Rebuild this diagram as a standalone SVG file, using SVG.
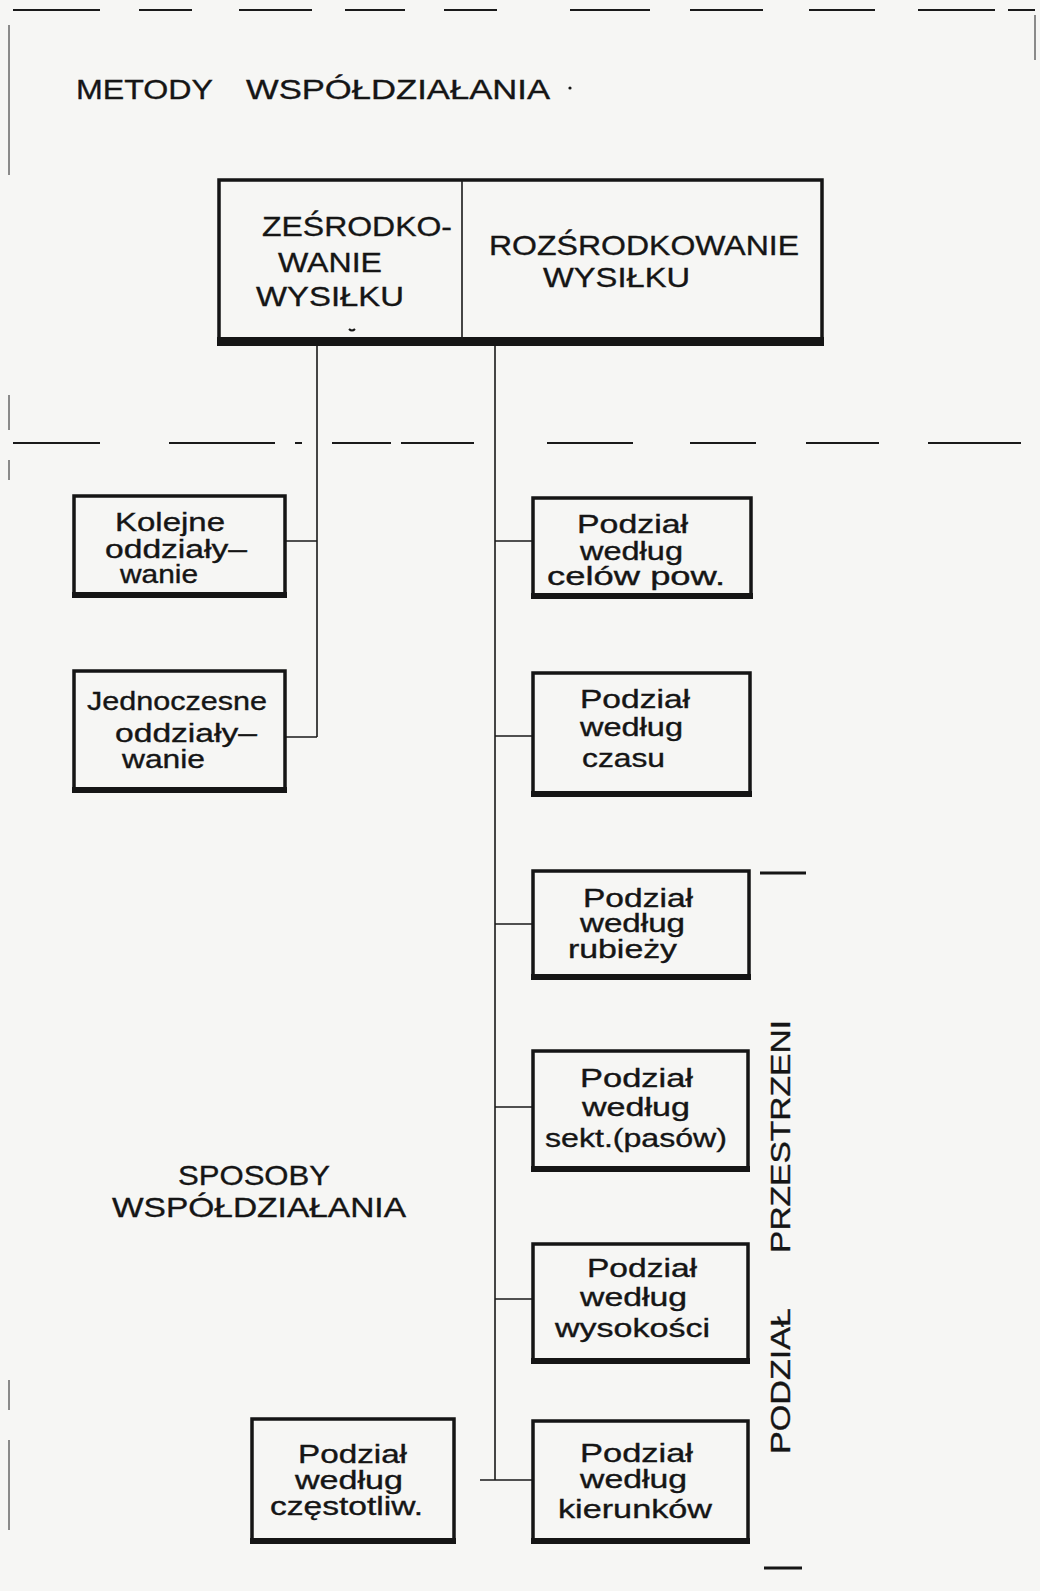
<svg xmlns="http://www.w3.org/2000/svg" width="1040" height="1591" viewBox="0 0 1040 1591">
<style>
.bg{fill:#f6f6f4}
.t{font-family:"Liberation Sans","DejaVu Sans",sans-serif;fill:#151515;stroke:#151515;stroke-width:0.35}
.cap{font-size:28px}
.bt{font-size:25px}
.box{fill:none;stroke:#151515;stroke-width:3.5}
.bb{stroke:#151515;stroke-width:6;fill:none}
.ln{stroke:#1a1a1a;stroke-width:1.6;fill:none}
.dash{stroke:#1a1a1a;stroke-width:2.2;fill:none}
.edge{stroke:#444;stroke-width:1.2;fill:none}
</style>
<rect class="bg" x="0" y="0" width="1040" height="1591"/>

<g id="frame">
<path class="dash" d="M13 10H100M139 10H192M239 10H312M345 10H405M444 10H497M570 10H650M690 10H763M809 10H875M918 10H995M1008 10H1035"/>
<path class="dash" d="M13 443H100M169 443H275M295 443H302M332 443H391M401 443H474M547 443H633M690 443H756M806 443H879M928 443H1021"/>
<path class="edge" d="M9 25V175M9 395V430M9 460V480M9 1380V1410M9 1440V1530M1035 15V60"/>
</g>

<g id="title">
<text class="t cap" x="76" y="99" textLength="137" lengthAdjust="spacingAndGlyphs">METODY</text>
<text class="t cap" x="246" y="99" textLength="304" lengthAdjust="spacingAndGlyphs">WSPÓŁDZIAŁANIA</text>
<circle cx="570" cy="88" r="1.6" fill="#151515"/>
</g>

<g id="connectors">
<path class="ln" d="M317 345V737M285 541H317M285 737H317"/>
<path class="ln" d="M495 345V1480M495 541H532M495 736H532M495 924H532M495 1107H532M495 1299H532M480 1480H532"/>
</g>

<g id="top-box">
<rect class="box" x="219" y="180" width="603" height="162" stroke-width="4.5"/>
<rect x="217" y="337" width="607" height="9" fill="#151515"/>
<line class="ln" x1="462" y1="180" x2="462" y2="340" stroke-width="2.2"/>
<text class="t cap" x="262" y="236" textLength="190" lengthAdjust="spacingAndGlyphs">ZEŚRODKO-</text>
<text class="t cap" x="278" y="272" textLength="104" lengthAdjust="spacingAndGlyphs">WANIE</text>
<text class="t cap" x="256" y="306" textLength="148" lengthAdjust="spacingAndGlyphs">WYSIŁKU</text>
<text class="t cap" x="489" y="255" textLength="310" lengthAdjust="spacingAndGlyphs">ROZŚRODKOWANIE</text>
<text class="t cap" x="543" y="287" textLength="147" lengthAdjust="spacingAndGlyphs">WYSIŁKU</text>
<path d="M349 329q3 3 6 0" stroke="#151515" stroke-width="2" fill="none"/>
</g>

<g id="kolejne">
<rect class="box" x="74" y="496" width="211" height="99"/>
<line class="bb" x1="72" y1="595" x2="287" y2="595"/>
<text class="t bt" x="115" y="531" textLength="110" lengthAdjust="spacingAndGlyphs">Kolejne</text>
<text class="t bt" x="105" y="558" textLength="142" lengthAdjust="spacingAndGlyphs">oddziały–</text>
<text class="t bt" x="120" y="583" textLength="78" lengthAdjust="spacingAndGlyphs">wanie</text>
</g>

<g id="jednoczesne">
<rect class="box" x="74" y="671" width="211" height="119"/>
<line class="bb" x1="72" y1="790" x2="287" y2="790"/>
<text class="t bt" x="87" y="710" textLength="180" lengthAdjust="spacingAndGlyphs">Jednoczesne</text>
<text class="t bt" x="115" y="742" textLength="142" lengthAdjust="spacingAndGlyphs">oddziały–</text>
<text class="t bt" x="122" y="768" textLength="83" lengthAdjust="spacingAndGlyphs">wanie</text>
</g>

<g id="cele">
<rect class="box" x="533" y="498" width="218" height="98"/>
<line class="bb" x1="531" y1="596" x2="753" y2="596"/>
<text class="t bt" x="577" y="533" textLength="111" lengthAdjust="spacingAndGlyphs">Podział</text>
<text class="t bt" x="580" y="560" textLength="103" lengthAdjust="spacingAndGlyphs">według</text>
<text class="t bt" x="547" y="585" textLength="178" lengthAdjust="spacingAndGlyphs">celów  pow.</text>
</g>

<g id="czas">
<rect class="box" x="533" y="673" width="217" height="121"/>
<line class="bb" x1="531" y1="794" x2="752" y2="794"/>
<text class="t bt" x="580" y="708" textLength="110" lengthAdjust="spacingAndGlyphs">Podział</text>
<text class="t bt" x="580" y="736" textLength="103" lengthAdjust="spacingAndGlyphs">według</text>
<text class="t bt" x="582" y="767" textLength="83" lengthAdjust="spacingAndGlyphs">czasu</text>
</g>

<g id="rubieze">
<rect class="box" x="533" y="871" width="216" height="106"/>
<line class="bb" x1="531" y1="977" x2="751" y2="977"/>
<text class="t bt" x="583" y="907" textLength="110" lengthAdjust="spacingAndGlyphs">Podział</text>
<text class="t bt" x="580" y="932" textLength="105" lengthAdjust="spacingAndGlyphs">według</text>
<text class="t bt" x="568" y="958" textLength="109" lengthAdjust="spacingAndGlyphs">rubieży</text>
</g>

<g id="sektory">
<rect class="box" x="533" y="1051" width="215" height="118"/>
<line class="bb" x1="531" y1="1169" x2="750" y2="1169"/>
<text class="t bt" x="580" y="1087" textLength="113" lengthAdjust="spacingAndGlyphs">Podział</text>
<text class="t bt" x="582" y="1116" textLength="108" lengthAdjust="spacingAndGlyphs">według</text>
<text class="t bt" x="545" y="1147" textLength="182" lengthAdjust="spacingAndGlyphs">sekt.(pasów)</text>
</g>

<g id="wysokosc">
<rect class="box" x="533" y="1244" width="215" height="117"/>
<line class="bb" x1="531" y1="1361" x2="750" y2="1361"/>
<text class="t bt" x="587" y="1277" textLength="110" lengthAdjust="spacingAndGlyphs">Podział</text>
<text class="t bt" x="580" y="1306" textLength="107" lengthAdjust="spacingAndGlyphs">według</text>
<text class="t bt" x="555" y="1337" textLength="155" lengthAdjust="spacingAndGlyphs">wysokości</text>
</g>

<g id="kierunki">
<rect class="box" x="533" y="1421" width="215" height="120"/>
<line class="bb" x1="531" y1="1541" x2="750" y2="1541"/>
<text class="t bt" x="580" y="1462" textLength="113" lengthAdjust="spacingAndGlyphs">Podział</text>
<text class="t bt" x="580" y="1488" textLength="107" lengthAdjust="spacingAndGlyphs">według</text>
<text class="t bt" x="558" y="1518" textLength="154" lengthAdjust="spacingAndGlyphs">kierunków</text>
</g>

<g id="czestotliwosc">
<rect class="box" x="252" y="1419" width="202" height="122"/>
<line class="bb" x1="250" y1="1541" x2="456" y2="1541"/>
<text class="t bt" x="298" y="1463" textLength="109" lengthAdjust="spacingAndGlyphs">Podział</text>
<text class="t bt" x="295" y="1489" textLength="108" lengthAdjust="spacingAndGlyphs">według</text>
<text class="t bt" x="270" y="1515" textLength="153" lengthAdjust="spacingAndGlyphs">częstotliw.</text>
</g>

<g id="sposoby">
<text class="t cap" x="178" y="1185" textLength="152" lengthAdjust="spacingAndGlyphs">SPOSOBY</text>
<text class="t cap" x="112" y="1217" textLength="294" lengthAdjust="spacingAndGlyphs">WSPÓŁDZIAŁANIA</text>
</g>

<g id="podzial-przestrzeni">
<line x1="760" y1="873" x2="806" y2="873" stroke="#151515" stroke-width="3"/>
<line x1="764" y1="1568" x2="802" y2="1568" stroke="#151515" stroke-width="3"/>
<text class="t" font-size="27" transform="translate(790 1454) rotate(-90)" textLength="146" lengthAdjust="spacingAndGlyphs">PODZIAŁ</text>
<text class="t" font-size="27" transform="translate(790 1253) rotate(-90)" textLength="233" lengthAdjust="spacingAndGlyphs">PRZESTRZENI</text>
</g>
</svg>
